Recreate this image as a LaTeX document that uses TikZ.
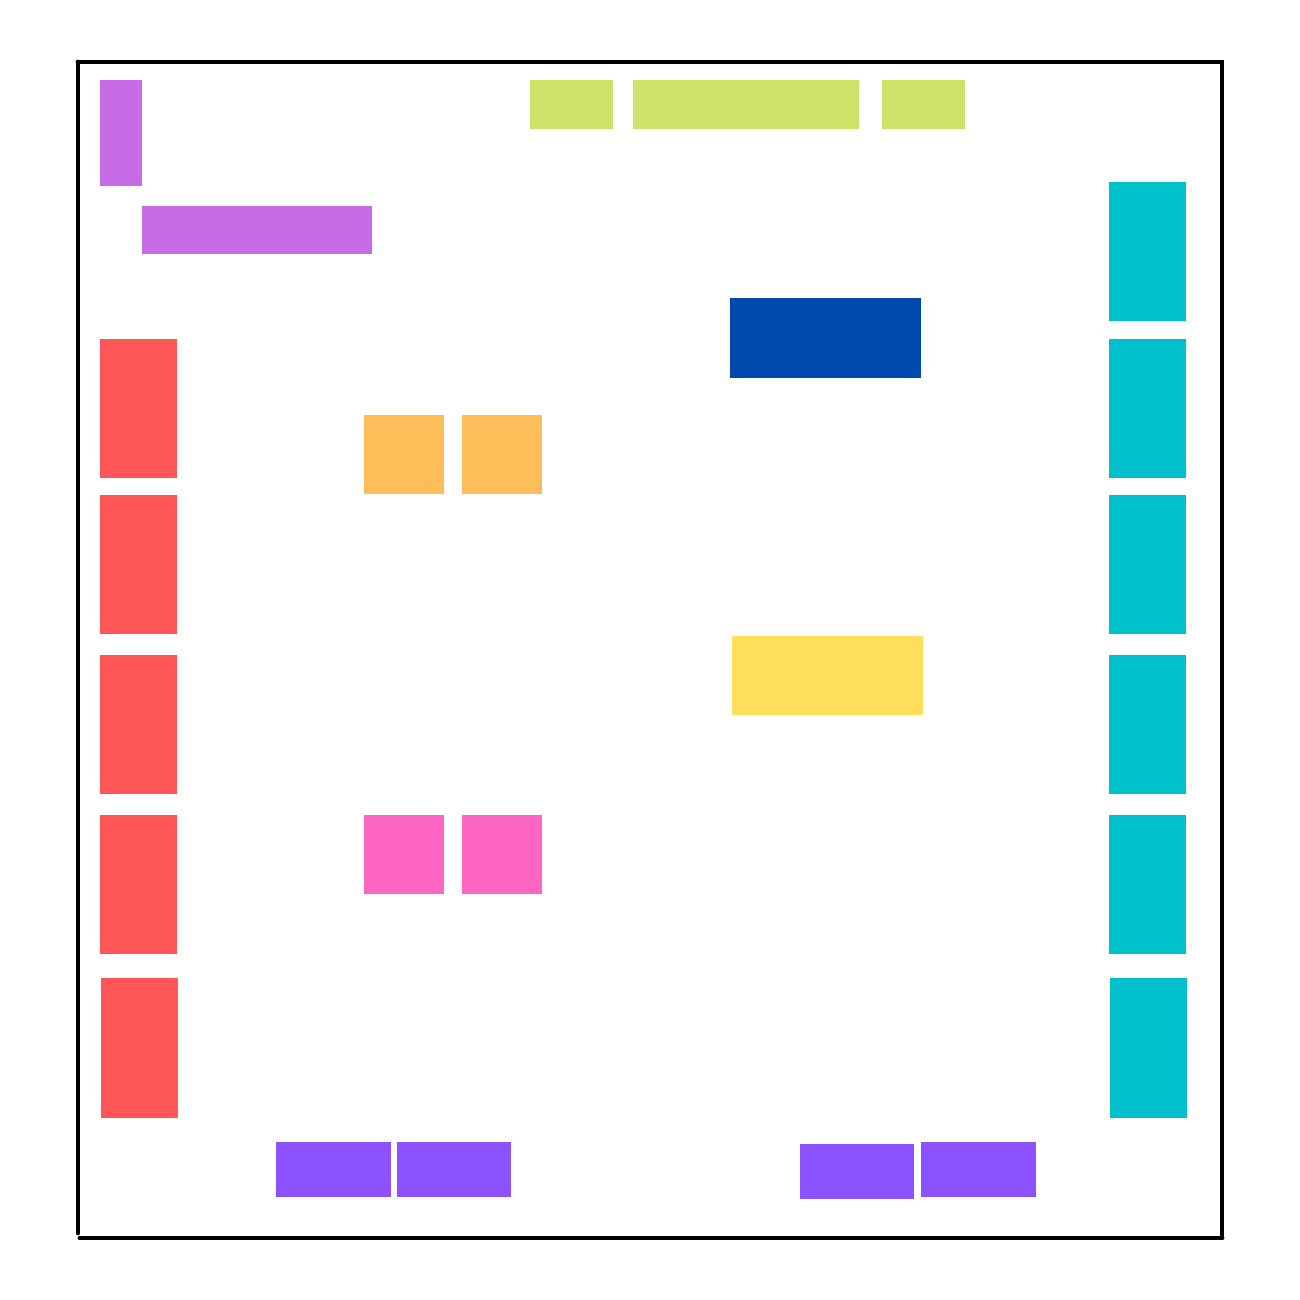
\documentclass[tikz,border=0pt]{standalone}
\usepackage{tikz}
\usepackage{xcolor}
\definecolor{deskviolet}{RGB}{200,107,230}
\definecolor{desklime}{RGB}{205,226,102}
\definecolor{deskcyan}{RGB}{0,193,203}
\definecolor{deskblue}{RGB}{0,74,173}
\definecolor{deskred}{RGB}{255,87,87}
\definecolor{deskorange}{RGB}{255,189,89}
\definecolor{deskyellow}{RGB}{255,222,89}
\definecolor{deskpink}{RGB}{255,102,196}
\definecolor{deskpurple}{RGB}{140,82,255}

\begin{document}
\begin{tikzpicture}[x=0.01cm, y=-0.01cm]
    \useasboundingbox (0,0) rectangle (1300,1300);

    % walls
    \draw[line width=1.4pt, line cap=round] (78,62) -- (1222,62) -- (1222,1237);
    \draw[line width=1.4pt, line cap=round] (78,62) -- (78,1233);
    \draw[line width=1.4pt, line cap=round] (80,1238) -- (1222,1238);

    % top left corner
    \fill[deskviolet] (100,80) rectangle (142,186);
    \fill[deskviolet] (142,206) rectangle (372,254);

    % top row
    \fill[desklime] (530,80) rectangle (613,129);
    \fill[desklime] (633,80) rectangle (859,129);
    \fill[desklime] (882,80) rectangle (965,129);

    % left wall
    \fill[deskred] (100,339) rectangle (177,478);
    \fill[deskred] (100,495) rectangle (177,634);
    \fill[deskred] (100,655) rectangle (177,794);
    \fill[deskred] (100,815) rectangle (177,954);
    \fill[deskred] (101,978) rectangle (178,1118);

    % right wall
    \fill[deskcyan] (1109,182) rectangle (1186,321);
    \fill[deskcyan] (1109,339) rectangle (1186,478);
    \fill[deskcyan] (1109,495) rectangle (1186,634);
    \fill[deskcyan] (1109,655) rectangle (1186,794);
    \fill[deskcyan] (1109,815) rectangle (1186,954);
    \fill[deskcyan] (1110,978) rectangle (1187,1118);

    % middle
    \fill[deskblue] (730,298) rectangle (921,378);
    \fill[deskorange] (364,415) rectangle (444,494);
    \fill[deskorange] (462,415) rectangle (542,494);
    \fill[deskyellow] (732,636) rectangle (923,715);
    \fill[deskpink] (364,815) rectangle (444,894);
    \fill[deskpink] (462,815) rectangle (542,894);

    % bottom row
    \fill[deskpurple] (276,1142) rectangle (391,1197);
    \fill[deskpurple] (397,1142) rectangle (511,1197);
    \fill[deskpurple] (800,1144) rectangle (914,1199);
    \fill[deskpurple] (921,1142) rectangle (1036,1197);
\end{tikzpicture}
\end{document}
